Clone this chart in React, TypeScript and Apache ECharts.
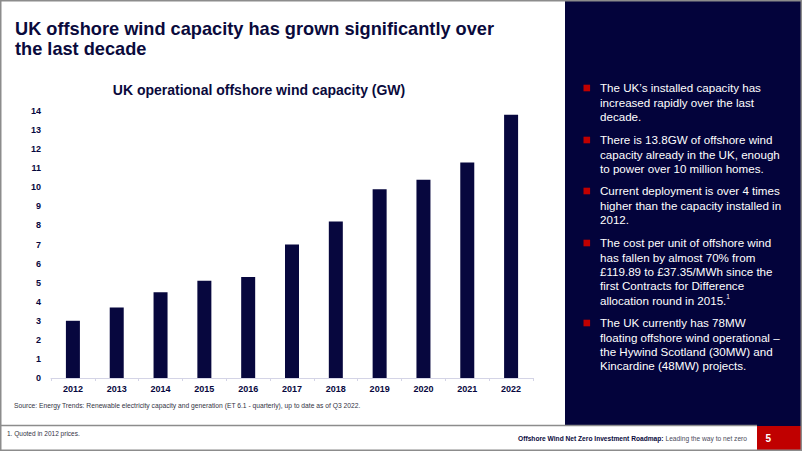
import React, { useEffect, useRef } from "react";
import * as echarts from "echarts";

const years = ["2012", "2013", "2014", "2015", "2016", "2017", "2018", "2019", "2020", "2021", "2022"];
const capacityGW = [3.0, 3.7, 4.5, 5.1, 5.3, 7.0, 8.2, 9.9, 10.4, 11.3, 13.8];

const slideTitle = "UK offshore wind capacity has grown significantly over\nthe last decade";
const chartTitle = "UK operational offshore wind capacity (GW)";
const sourceText = "Source: Energy Trends: Renewable electricity capacity and generation (ET 6.1 - quarterly), up to date as of Q3 2022.";
const footnoteText = "1. Quoted in 2012 prices.";
const footerBold = "Offshore Wind Net Zero Investment Roadmap:";
const footerNormal = " Leading the way to net zero";
const pageNumber = "5";

const bullets = [
  "The UK\u2019s installed capacity has\nincreased rapidly over the last\ndecade.",
  "There is 13.8GW of offshore wind\ncapacity already in the UK, enough\nto power over 10 million homes.",
  "Current deployment is over 4 times\nhigher than the capacity installed in\n2012.",
  "The cost per unit of offshore wind\nhas fallen by almost 70% from\n\u00a3119.89 to \u00a337.35/MWh since the\nfirst Contracts for Difference\nallocation round in 2015.{sup|1}",
  "The UK currently has 78MW\nfloating offshore wind operational \u2013\nthe Hywind Scotland (30MW) and\nKincardine (48MW) projects.",
];
const bulletTops = [88, 140, 191, 243, 323];

const NAVY = "#07073E";
const PANEL = "#03033B";
const RED = "#C00000";
const FONT = "'Liberation Sans', Arial, sans-serif";

export default function App() {
  const ref = useRef<HTMLDivElement>(null);
  useEffect(() => {
    if (!ref.current) return;
    const chart = echarts.init(ref.current, undefined, { renderer: "svg" });
    const LH = 14.3;
    const bulletGraphics: any[] = [];
    bullets.forEach((b, i) => {
      const cy = bulletTops[i];
      bulletGraphics.push({
        type: "rect",
        shape: { x: 583.5, y: cy - 3.3, width: 6.6, height: 6.6 },
        style: { fill: RED },
        silent: true,
      });
      bulletGraphics.push({
        type: "text",
        x: 600,
        y: cy - LH / 2,
        silent: true,
        style: {
          text: b,
          fill: "#ffffff",
          font: `11.6px ${FONT}`,
          lineHeight: LH,
          align: "left",
          verticalAlign: "top",
          rich: {
            sup: { fontSize: 6.5, fill: "#ffffff", verticalAlign: "top", lineHeight: LH, fontFamily: FONT },
          },
        },
      });
    });

    chart.setOption({
      animation: false,
      backgroundColor: "#ffffff",
      grid: { left: 51, right: 269, top: 111, bottom: 73, containLabel: false },
      xAxis: {
        type: "category",
        data: years,
        axisLine: { show: true, lineStyle: { color: "#d4d4e6", width: 1 } },
        axisTick: { show: true, length: 3, lineStyle: { color: "#d4d4e6" } },
        axisLabel: { color: NAVY, fontWeight: "bold", fontSize: 9, fontFamily: FONT, margin: 6 },
      },
      yAxis: {
        type: "value",
        min: 0,
        max: 14,
        interval: 1,
        splitLine: { show: false },
        axisLine: { show: false },
        axisTick: { show: false },
        axisLabel: { color: NAVY, fontWeight: "bold", fontSize: 9, fontFamily: FONT, margin: 10 },
      },
      series: [
        {
          type: "bar",
          data: capacityGW,
          barWidth: 14,
          itemStyle: { color: NAVY },
          silent: true,
        },
      ],
      graphic: [
        {
          type: "rect",
          shape: { x: 565, y: 0, width: 237, height: 426 },
          style: { fill: PANEL },
          silent: true,
        },
        {
          type: "text",
          x: 15,
          y: 18.5,
          silent: true,
          style: {
            text: slideTitle,
            fill: "#0A0A3C",
            font: `bold 18.2px ${FONT}`,
            lineHeight: 20.5,
            align: "left",
            verticalAlign: "top",
          },
        },
        {
          type: "text",
          x: 259,
          y: 90,
          silent: true,
          style: {
            text: chartTitle,
            fill: "#0A0A3C",
            font: `bold 14px ${FONT}`,
            align: "center",
            verticalAlign: "middle",
          },
        },
        {
          type: "text",
          x: 14,
          y: 405,
          scaleX: 0.84,
          silent: true,
          style: { text: sourceText, fill: "#333344", font: `8px ${FONT}`, align: "left", verticalAlign: "middle" },
        },
        {
          type: "line",
          shape: { x1: 0, y1: 425.5, x2: 757, y2: 425.5 },
          style: { stroke: "#8c8c8c", lineWidth: 1.5 },
          silent: true,
        },
        {
          type: "text",
          x: 7,
          y: 433,
          scaleX: 0.87,
          silent: true,
          style: { text: footnoteText, fill: "#333344", font: `7.5px ${FONT}`, align: "left", verticalAlign: "middle" },
        },
        {
          type: "text",
          x: 747,
          y: 438,
          scaleX: 0.83,
          silent: true,
          style: {
            text: `{b|${footerBold}}{n|${footerNormal}}`,
            align: "right",
            verticalAlign: "middle",
            rich: {
              b: { fontWeight: "bold", fontSize: 8, fontFamily: FONT, fill: "#0A0A3C" },
              n: { fontSize: 8, fontFamily: FONT, fill: "#4a4a5a" },
            },
          },
        },
        {
          type: "rect",
          shape: { x: 757, y: 426, width: 45, height: 25 },
          style: { fill: RED },
          silent: true,
        },
        {
          type: "text",
          x: 765.5,
          y: 438.5,
          silent: true,
          style: { text: pageNumber, fill: "#ffffff", font: `bold 10px ${FONT}`, align: "left", verticalAlign: "middle" },
        },
        ...bulletGraphics,
        {
          type: "rect",
          shape: { x: 0.75, y: 0.75, width: 800.5, height: 449.5 },
          style: { fill: "none", stroke: "#8c8c8c", lineWidth: 1.5 },
          silent: true,
          z: 100,
        },
      ],
    });
    return () => chart.dispose();
  }, []);
  return <div ref={ref} style={{ position: "fixed", left: 0, top: 0, width: 802, height: 451 }} />;
}
